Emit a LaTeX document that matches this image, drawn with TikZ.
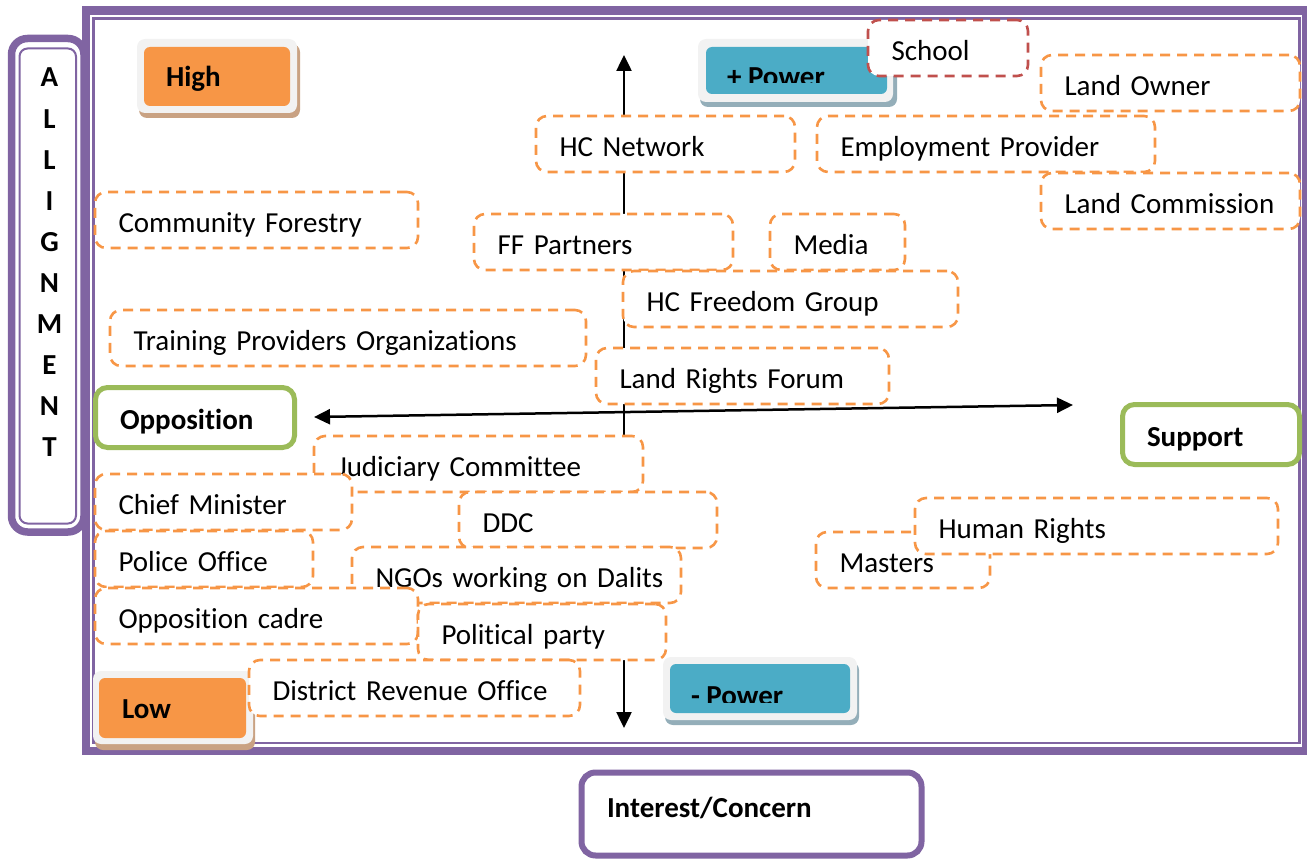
\documentclass[tikz,border=0pt]{standalone}
\usepackage{fontspec}
\setmainfont{Carlito}[Ligatures=NoCommon]
\usetikzlibrary{arrows.meta}
\definecolor{cOrange}{HTML}{F79646}
\definecolor{cRed}{HTML}{C0504D}
\definecolor{cPurple}{HTML}{8064A2}
\definecolor{cGreen}{HTML}{9BBB59}
\definecolor{cBlue}{HTML}{4BACC6}
\definecolor{cGray}{HTML}{F2F2F2}
\definecolor{cTan}{HTML}{C9A283}
\definecolor{cSteel}{HTML}{94AEB9}
\tikzset{
  stake/.style={draw=cOrange, fill=white, line width=2.6pt, dash pattern=on 10pt off 7pt,
    rounded corners=11pt, anchor=north west, inner xsep=23.5pt, inner ysep=0pt, outer sep=0pt,
    align=left, text height=25pt, text depth=0pt, font=\fontsize{29}{34}\selectfont},
  lbl/.style={font=\bfseries\fontsize{29}{34}\selectfont, inner sep=0pt, outer sep=0pt, anchor=base west},
  axisarrow/.style={line width=2.5pt, {Triangle[length=16pt,width=15pt]}-{Triangle[length=16pt,width=15pt]}},
}
\newcommand\stk[7][]{\pgfmathsetlengthmacro\stkw{#5-47}\node[stake,#1,text width=\stkw,minimum height=#6] (#2) at (#3,#4) {\mbox{#7}};}
\begin{document}
\begin{tikzpicture}[x=1pt,y=-1pt]
\useasboundingbox (0,0) rectangle (1307,861);
% main frame
\draw[cPurple, line width=8.5pt] (86,10.5) rectangle (1306,751);
\draw[cPurple, line width=2.2pt] (93.5,18.5) rectangle (1299.5,743);
% ALLIGNMENT box
\draw[cPurple, line width=7.5pt, rounded corners=16pt] (11.5,38.5) rectangle (84,532);
\draw[cPurple, line width=2pt, rounded corners=8pt] (19.5,48.5) rectangle (76,523.5);
\foreach \c [count=\i] in {A,L,L,I,G,N,M,E,N,T} {\node[lbl, anchor=base] (al\i) at (49.5,{87+(\i-1)*41.1}) {\c};}
% High button
\fill[cTan, rounded corners=8pt] (139,44) rectangle (300,118);
\fill[cGray, rounded corners=8pt] (137,39) rectangle (297,113);
\fill[cOrange, rounded corners=6pt] (144,47) rectangle (290,106);
\node[lbl] (high) at (166,87) {High};
% + Power button
\fill[cSteel, rounded corners=8pt] (700,44) rectangle (897,107);
\fill[cGray, rounded corners=8pt] (698,39) rectangle (893,102);
\fill[cBlue, rounded corners=6pt] (706,47) rectangle (887,94);
\begin{scope}
\clip (706,47) rectangle (887,83);
\node[lbl] (ppow) at (727,87) {+ Power};
\end{scope}
% vertical axis
\coordinate (vtop) at (624,55);
\coordinate (vbot) at (624,728);
\draw[axisarrow] (vbot) -- (vtop);
% stakeholders
\stk[draw=cRed]{school}{868}{20}{160}{56}{School}
\stk{landowner}{1041}{55}{259}{56}{Land Owner}
\stk{hcnet}{536}{116}{259}{56}{HC Network}
\stk{employ}{817}{116}{338}{56}{Employment Provider}
\stk{landcom}{1041}{173}{259}{56}{Land Commission}
\stk{commfor}{95}{192}{323}{56}{Community Forestry}
\stk{ffp}{474}{214}{259}{56}{FF Partners}
\stk{media}{770}{214}{135}{56}{Media}
\stk{hcfree}{623}{271}{335}{56}{HC Freedom Group}
\stk{training}{110}{310}{476}{56}{Training Providers Organizations}
\stk{lrf}{596}{348}{293}{56}{Land Rights Forum}
\stk{judic}{314}{436}{329}{56}{Judiciary Committee}
\stk{chief}{95}{474}{257}{56}{Chief Minister}
\stk{ddc}{459}{492}{258}{56}{DDC}
\stk{police}{95}{531}{218}{56}{Police Office}
\stk{ngo}{352}{547}{329}{56}{NGOs working on Dalits}
\stk{masters}{816}{532}{174}{56}{Masters}
\stk{human}{915}{498}{363}{56}{Human Rights}
\stk{oppcadre}{95}{588}{323}{56}{Opposition cadre}
\stk{polparty}{418}{604}{248}{56}{Political party}
% Low button
\fill[cTan, rounded corners=8pt] (95,676) rectangle (255,750);
\fill[cGray, rounded corners=8pt] (93,671) rectangle (253,744);
\fill[cOrange, rounded corners=6pt] (99,678) rectangle (246,738);
\node[lbl] (low) at (122,718) {Low};
\stk{dro}{249}{660}{331}{56}{District Revenue Office}
% - Power button
\fill[cSteel, rounded corners=8pt] (665,662) rectangle (859,725);
\fill[cGray, rounded corners=8pt] (663,657) rectangle (857,720);
\fill[cBlue, rounded corners=6pt] (670,664) rectangle (850,713);
\begin{scope}
\clip (670,664) rectangle (850,702);
\node[lbl] (mpow) at (691,705) {- Power};
\end{scope}
% Opposition / Support
\draw[cGreen, line width=5pt, rounded corners=12pt] (95.5,387.5) rectangle (294.5,447.5);
\node[lbl] (opp) at (120,429) {Opposition};
\draw[cGreen, line width=5pt, rounded corners=12pt] (1122.5,404.5) rectangle (1299.5,464.5);
\node[lbl] (sup) at (1147,446) {Support};
% horizontal axis
\coordinate (hl) at (314,417);
\coordinate (hr) at (1073,405);
\draw[axisarrow] (hl) -- (hr);
% Interest/Concern
\draw[cPurple, line width=6pt, rounded corners=14pt] (581.5,772.5) rectangle (921.5,855.5);
\node[lbl] (interest) at (607,817) {Interest/Concern};
\end{tikzpicture}
\end{document}
